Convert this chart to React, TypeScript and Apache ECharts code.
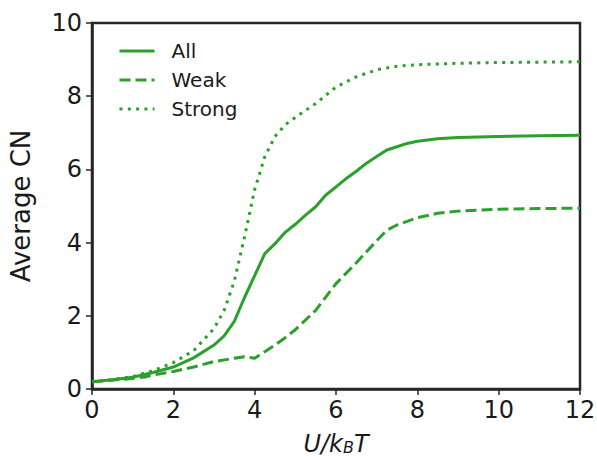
import React, { useEffect, useRef } from "react";
import * as echarts from "echarts";

const GREEN = "#2ca02c";

const xAll = [0, 0.5, 1, 1.5, 2, 2.5, 3, 3.25, 3.5, 3.75, 4, 4.25, 4.5, 4.75, 5, 5.25, 5.5, 5.75, 6, 6.25, 6.5, 6.75, 7, 7.25, 7.5, 7.75, 8, 8.5, 9, 10, 11, 12];
const yAll = [0.2, 0.25, 0.32, 0.45, 0.6, 0.85, 1.2, 1.45, 1.85, 2.5, 3.1, 3.7, 3.97, 4.28, 4.5, 4.75, 4.98, 5.3, 5.52, 5.75, 5.95, 6.17, 6.35, 6.53, 6.62, 6.71, 6.77, 6.84, 6.87, 6.9, 6.92, 6.93];

const xWeak = [0, 0.5, 1, 1.3, 1.5, 2, 2.5, 3, 3.5, 3.75, 4, 4.25, 4.5, 4.75, 5, 5.5, 6, 6.5, 7, 7.25, 7.5, 8, 8.5, 9, 10, 11, 12];
const yWeak = [0.2, 0.24, 0.29, 0.33, 0.38, 0.48, 0.6, 0.75, 0.84, 0.88, 0.84, 1.02, 1.2, 1.4, 1.62, 2.15, 2.88, 3.45, 4.05, 4.34, 4.48, 4.68, 4.8, 4.86, 4.91, 4.93, 4.94];

const xStrong = [0, 0.5, 1, 1.5, 2, 2.5, 3, 3.25, 3.5, 3.75, 4, 4.25, 4.5, 4.75, 5, 5.5, 6, 6.5, 7, 7.5, 8, 9, 10, 11, 12];
const yStrong = [0.2, 0.26, 0.34, 0.5, 0.72, 1.05, 1.65, 2.15, 2.95, 4.15, 5.45, 6.35, 6.9, 7.22, 7.42, 7.8, 8.25, 8.53, 8.72, 8.82, 8.86, 8.9, 8.92, 8.93, 8.94];

const xTicks = [0, 2, 4, 6, 8, 10, 12];
const yTicks = [0, 2, 4, 6, 8, 10];

const pairs = (xs: number[], ys: number[]) => xs.map((x, i) => [x, ys[i]]);

export default function App() {
  const ref = useRef<HTMLDivElement>(null);
  useEffect(() => {
    if (!ref.current) return;
    const chart = echarts.init(ref.current, undefined, { renderer: "svg" });
    const font = "DejaVu Sans";
    const axisCommon = {
      axisLine: { show: true, lineStyle: { color: "#262626", width: 2.5 } },
      axisTick: { show: true, inside: false, length: 6, lineStyle: { color: "#262626", width: 1.5 } },
      splitLine: { show: false },
    };
    chart.setOption({
      animation: false,
      backgroundColor: "#ffffff",
      grid: {
        left: 92,
        top: 23,
        right: 17,
        bottom: 68,
        show: true,
        borderColor: "#262626",
        borderWidth: 2.5,
        containLabel: false,
        outerBoundsMode: "none",
      },
      legend: {
        orient: "vertical",
        left: 113,
        top: 36,
        itemWidth: 35,
        itemHeight: 20,
        itemGap: 9,
        itemStyle: { opacity: 0 },
        lineStyle: { width: 3 },
        textStyle: { fontFamily: font, fontSize: 20, color: "#1a1a1a", padding: [0, 0, 0, 12] },
        data: ["All", "Weak", "Strong"],
      },
      xAxis: {
        type: "value",
        min: xTicks[0],
        max: xTicks[xTicks.length - 1],
        interval: 2,
        ...axisCommon,
        axisLabel: { fontFamily: font, fontSize: 24, color: "#1a1a1a", margin: 9 },
        name: "{i|U/k}{s|B}{i|T}",
        nameLocation: "middle",
        nameGap: 45,
        nameTextStyle: {
          lineHeight: 20,
          rich: {
            i: { fontFamily: font, fontStyle: "italic", fontSize: 24, lineHeight: 20, color: "#1a1a1a" },
            s: { fontFamily: font, fontStyle: "italic", fontSize: 16, lineHeight: 14, color: "#1a1a1a", padding: [6, 0, 0, 0] },
          },
        },
      },
      yAxis: {
        type: "value",
        min: yTicks[0],
        max: yTicks[yTicks.length - 1],
        interval: 2,
        ...axisCommon,
        axisLabel: { fontFamily: font, fontSize: 24, color: "#1a1a1a", margin: 10 },
        name: "Average CN",
        nameLocation: "middle",
        nameGap: 58,
        nameTextStyle: { fontFamily: font, fontSize: 26, color: "#1a1a1a" },
      },
      series: [
        {
          name: "All",
          type: "line",
          data: pairs(xAll, yAll),
          showSymbol: false,
          symbol: "none",
          color: GREEN,
          lineStyle: { color: GREEN, width: 3, type: "solid" },
        },
        {
          name: "Weak",
          type: "line",
          data: pairs(xWeak, yWeak),
          showSymbol: false,
          symbol: "none",
          color: GREEN,
          lineStyle: { color: GREEN, width: 3, type: [11, 5], cap: "butt" },
        },
        {
          name: "Strong",
          type: "line",
          data: pairs(xStrong, yStrong),
          showSymbol: false,
          symbol: "none",
          color: GREEN,
          lineStyle: { color: GREEN, width: 3, type: [3, 5.3], cap: "butt" },
        },
      ],
    });
    return () => chart.dispose();
  }, []);
  return <div ref={ref} style={{ position: "fixed", left: 0, top: 0, width: 597, height: 457 }} />;
}
